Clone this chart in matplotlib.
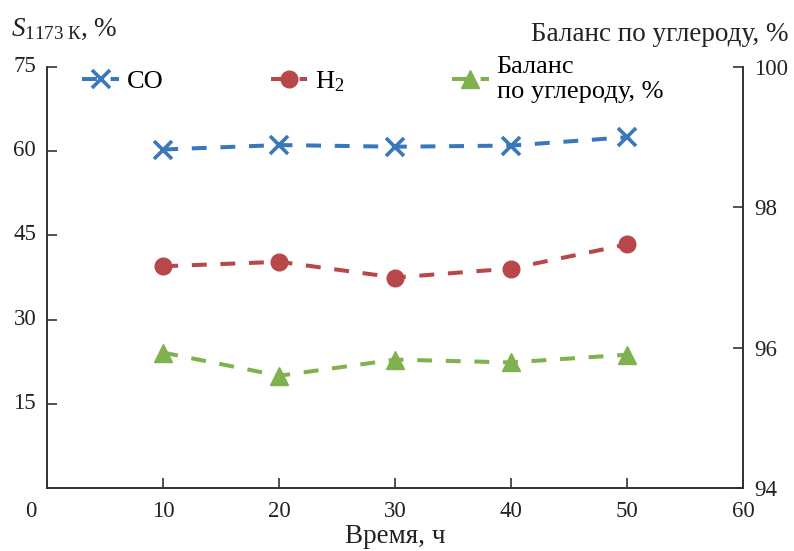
import matplotlib.pyplot as plt
from matplotlib.transforms import ScaledTranslation

plt.rcParams['font.family'] = ['Liberation Serif', 'DejaVu Serif']
plt.rcParams['mathtext.fontset'] = 'custom'
plt.rcParams['mathtext.rm'] = 'Liberation Serif'
plt.rcParams['mathtext.it'] = 'Liberation Serif:italic'

# данные
time_h = [10, 20, 30, 40, 50]
s_co = [60.3, 61.1, 60.8, 61.0, 62.5]
s_h2 = [39.5, 40.3, 37.5, 39.1, 43.4]
carbon_balance = [95.93, 95.60, 95.83, 95.79, 95.90]

c_co = '#3a78bc'
c_h2 = '#b8474a'
c_bal = '#7fb24f'
txt = '#222222'

fig = plt.figure(figsize=(7.94, 5.51), dpi=100)
ax = fig.add_axes([0.0595, 0.1143, 0.8765, 0.7641])
ax2 = ax.twinx()

dash = (3.7, 3.4)
l1, = ax.plot(time_h, s_co, '--', color=c_co, lw=2.9, marker='x', ms=12.5, mew=2.6,
              dashes=dash, label='CO')
l2, = ax.plot(time_h, s_h2, '--', color=c_h2, lw=2.9, marker='o', ms=12,
              dashes=dash, label='H$_2$')
l3, = ax2.plot(time_h, carbon_balance, '--', color=c_bal, lw=2.9, marker='^', ms=12.5,
               dashes=dash, label='Баланс\nпо углероду, %')

ax.set_xlim(0, 60)
ax.set_ylim(0, 75)
ax2.set_ylim(94, 100)
ax.set_xticks(range(0, 61, 10))
ax.set_yticks([15, 30, 45, 60, 75])
ax2.set_yticks([94, 96, 98, 100])

for a in (ax, ax2):
    a.spines['top'].set_visible(False)
    for s in a.spines.values():
        s.set_color('#333333')
        s.set_linewidth(1.2)
    a.tick_params(direction='in', length=7, width=1.1, labelsize=16.5, colors=txt)
ax.tick_params(axis='y', pad=8)
ax2.tick_params(axis='y', pad=8)
ax.tick_params(axis='x', pad=9.5)

# подписи левой оси чуть выше делений, "0" сдвинут влево
up = ScaledTranslation(0, 3 / 100, fig.dpi_scale_trans)
for lab in ax.get_yticklabels():
    lab.set_transform(lab.get_transform() + up)
left = ScaledTranslation(-16 / 100, 0, fig.dpi_scale_trans)
xl0 = ax.get_xticklabels()[0]
xl0.set_transform(xl0.get_transform() + left)

ax.set_xlabel('Время, ч', fontsize=19.5, labelpad=1.5, color=txt)

fig.text(0.014, 0.946, r'$\mathit{S}_{\mathrm{1173\ К}}$, %', fontsize=19.5, color=txt,
         va='center', ha='left')
fig.text(0.993, 0.938, 'Баланс по углероду, %', fontsize=19.5, color=txt,
         va='center', ha='right')

ax.legend(handles=[l1, l2, l3], loc='upper left', bbox_to_anchor=(0.05, 1.026), ncol=3,
          frameon=False, fontsize=19, handlelength=1.4, handletextpad=0.3,
          columnspacing=4.05, borderpad=0, borderaxespad=0, labelspacing=0)

fig.savefig('out.png', dpi=100)
